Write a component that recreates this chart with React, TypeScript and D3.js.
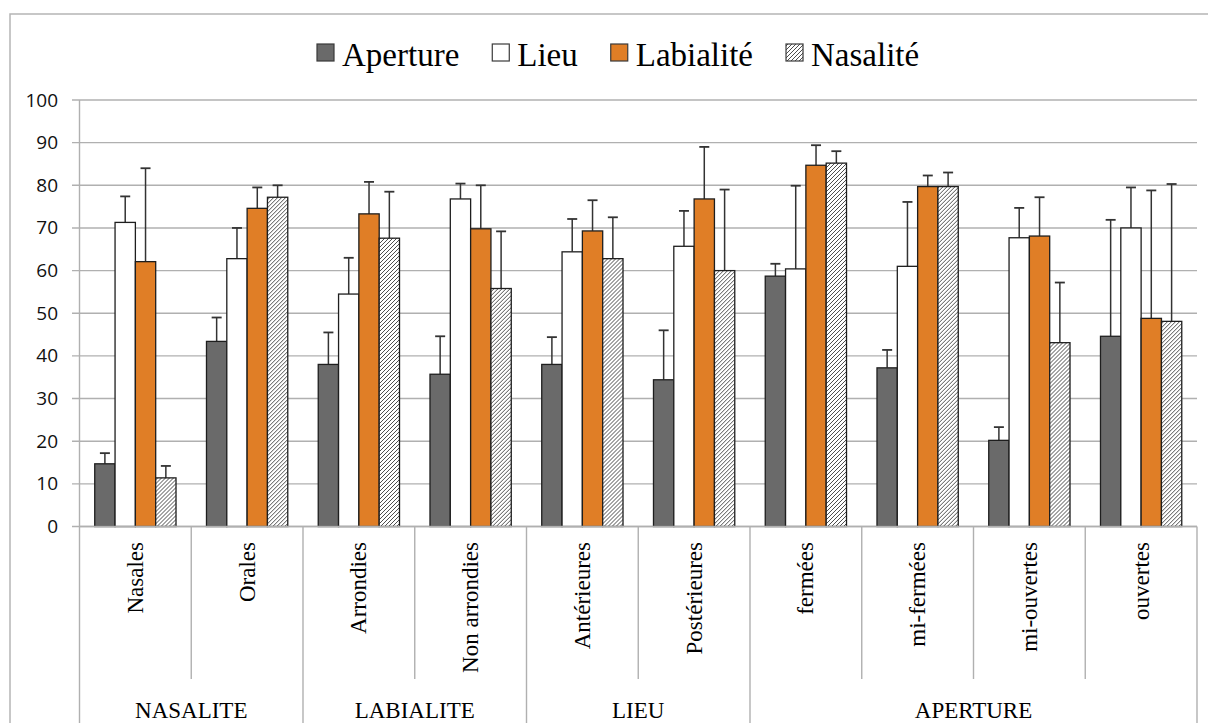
import React from "react";
import * as d3 from "d3";

const categories = ["Nasales", "Orales", "Arrondies", "Non arrondies", "Antérieures", "Postérieures", "fermées", "mi-fermées", "mi-ouvertes", "ouvertes"];
const groups = [
  { name: "NASALITE", from: 0, to: 1 },
  { name: "LABIALITE", from: 2, to: 3 },
  { name: "LIEU", from: 4, to: 5 },
  { name: "APERTURE", from: 6, to: 9 },
];
const seriesNames = ["Aperture", "Lieu", "Labialité", "Nasalité"];

const aperture = [14.7, 43.4, 38.0, 35.7, 38.0, 34.4, 58.7, 37.2, 20.2, 44.6];
const apertureErr = [17.2, 49.0, 45.5, 44.6, 44.4, 46.0, 61.6, 41.4, 23.3, 71.9];
const lieu = [71.3, 62.8, 54.5, 76.8, 64.4, 65.7, 60.4, 61.0, 67.7, 70.0];
const lieuErr = [77.4, 70.0, 63.0, 80.4, 72.1, 74.0, 79.9, 76.1, 74.7, 79.5];
const labialite = [62.1, 74.6, 73.3, 69.8, 69.3, 76.8, 84.7, 79.7, 68.1, 48.8];
const labialiteErr = [84.0, 79.5, 80.8, 80.0, 76.5, 89.0, 89.4, 82.3, 77.2, 78.8];
const nasalite = [11.4, 77.2, 67.6, 55.8, 62.8, 60.0, 85.2, 79.7, 43.1, 48.1];
const nasaliteErr = [14.2, 80.0, 78.5, 69.2, 72.5, 79.0, 88.0, 83.0, 57.2, 80.3];

const yTicks = [0, 10, 20, 30, 40, 50, 60, 70, 80, 90, 100];

const values = [aperture, lieu, labialite, nasalite];
const errTops = [apertureErr, lieuErr, labialiteErr, nasaliteErr];
const fills = ["#6a6a6a", "#ffffff", "#e07e26", "url(#hatch)"];

const W = 1208;
const H = 723;
const plot = { left: 79.5, right: 1197, top: 100, bottom: 526.5 };

function measure(text: string, font: string) {
  const c = document.createElement("canvas");
  const ctx = c.getContext("2d")!;
  ctx.font = font;
  return ctx.measureText(text).width;
}

export default function App() {
  const x = d3.scaleBand<string>().domain(categories).range([plot.left, plot.right]).paddingInner(0).paddingOuter(0);
  const xs = d3.scaleBand<string>().domain(seriesNames).range([0, x.bandwidth()]).paddingInner(0).paddingOuter(0.75);
  const y = d3.scaleLinear().domain([0, 100]).range([plot.bottom, plot.top]);

  const serif = "'Liberation Serif', 'Times New Roman', serif";
  const legendFont = `33px 'Liberation Serif'`;
  let lx = 317;
  const legendItems = seriesNames.map((name, i) => {
    const item = { name, i, x: lx };
    lx += 17 + 8 + measure(name, legendFont) + 33;
    return item;
  });

  const boundaries = d3.range(categories.length + 1).map((i) => plot.left + i * x.step());
  const groupBoundaries = new Set<number>([0, ...groups.map((g) => g.to + 1)]);

  return (
    <svg width={W} height={H} style={{ position: "absolute", left: 0, top: 0, background: "#fff" }}>
      <defs>
        <pattern id="hatch" patternUnits="userSpaceOnUse" width="4" height="4">
          <rect width="4" height="4" fill="#ffffff" />
          <path d="M-1,1 l2,-2 M0,4 l4,-4 M3,5 l2,-2" stroke="#3a3a3a" strokeWidth="0.9" />
        </pattern>
      </defs>
      {/* outer frame */}
      <rect x={10} y={14} width={1220} height={740} fill="none" stroke="#b5b5b5" strokeWidth={1.5} />

      {/* legend */}
      {legendItems.map((it) => (
        <g key={it.name}>
          <rect x={it.x} y={44} width={17} height={17} fill={fills[it.i]} stroke="#3a3a3a" strokeWidth={1.2} />
          <text x={it.x + 25} y={66} fontFamily={serif} fontSize={33} fill="#000">{it.name}</text>
        </g>
      ))}

      {/* gridlines */}
      {yTicks.map((t) => (
        <g key={t}>
          <line x1={72} x2={plot.right} y1={y(t)} y2={y(t)} stroke="#b0b0b0" strokeWidth={1.4} />
          <text x={58} y={y(t) + 6.5} textAnchor="end" fontFamily="'Open Sans', sans-serif" fontSize={19} fill="#111">{t}</text>
        </g>
      ))}

      {/* category separators */}
      {boundaries.map((bx, i) => (
        <line key={i} x1={bx} x2={bx} y1={groupBoundaries.has(i) ? (i === 0 ? plot.top : plot.bottom) : plot.bottom} y2={groupBoundaries.has(i) ? H : 679} stroke="#b0b0b0" strokeWidth={1.4} />
      ))}

      {/* bars */}
      {categories.map((c, ci) => (
        <g key={c} transform={`translate(${x(c)},0)`}>
          {seriesNames.map((s, si) => {
            const v = values[si][ci];
            const bx = xs(s)!;
            const cx = bx + xs.bandwidth() / 2;
            return (
              <g key={s}>
                <line x1={cx} x2={cx} y1={y(v)} y2={y(errTops[si][ci])} stroke="#333" strokeWidth={1.5} />
                <line x1={cx - 5} x2={cx + 5} y1={y(errTops[si][ci])} y2={y(errTops[si][ci])} stroke="#333" strokeWidth={1.8} />
                <rect x={bx} y={y(v)} width={xs.bandwidth()} height={plot.bottom - y(v)} fill={fills[si]} stroke="#1e1e1e" strokeWidth={1.3} />
              </g>
            );
          })}
        </g>
      ))}

      {/* x axis */}
      <line x1={plot.left} x2={plot.right} y1={plot.bottom} y2={plot.bottom} stroke="#b0b0b0" strokeWidth={1.4} />

      {/* category labels */}
      {categories.map((c) => {
        const cx = x(c)! + x.bandwidth() / 2 + 7.6;
        return (
          <text key={c} transform={`translate(${cx},542) rotate(-90)`} textAnchor="end" fontFamily={serif} fontSize={23} fill="#000">{c}</text>
        );
      })}

      {/* group labels */}
      {groups.map((g) => {
        const gx = (x(categories[g.from])! + x(categories[g.to])! + x.bandwidth()) / 2;
        return (
          <text key={g.name} x={gx} y={718} textAnchor="middle" fontFamily={serif} fontSize={23} fill="#000">{g.name}</text>
        );
      })}
    </svg>
  );
}
